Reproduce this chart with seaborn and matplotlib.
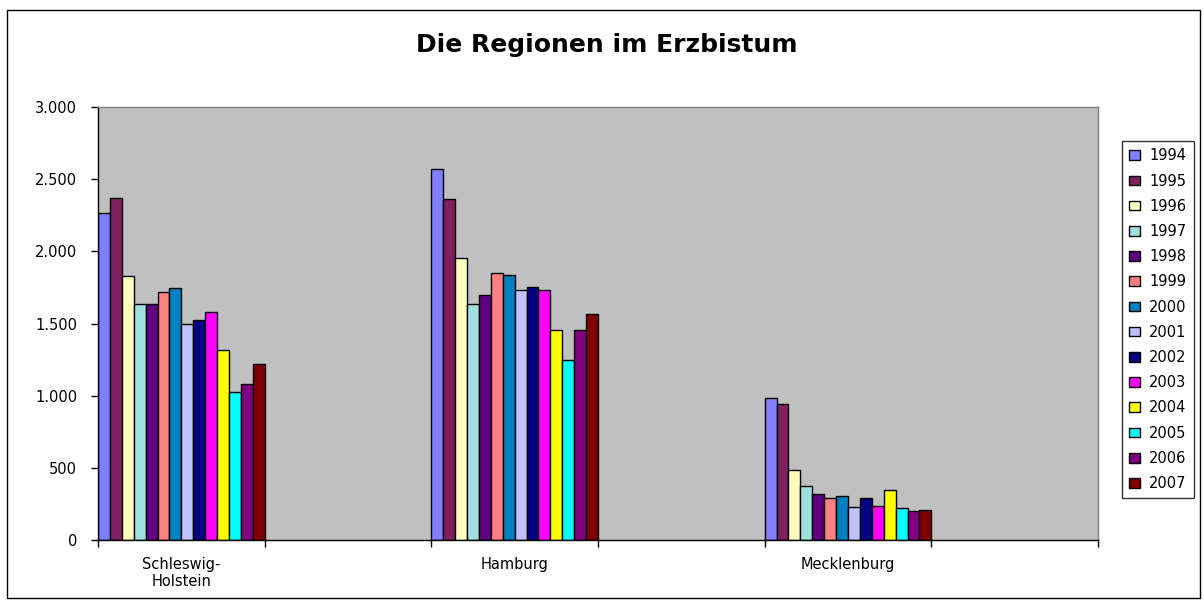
import numpy as np
import pandas as pd
import seaborn as sns
import matplotlib.pyplot as plt
from matplotlib.patches import Rectangle
from matplotlib.ticker import FuncFormatter

# Daten
regionen = ["Schleswig-\nHolstein", "Hamburg", "Mecklenburg"]
jahre = ["1994", "1995", "1996", "1997", "1998", "1999", "2000",
         "2001", "2002", "2003", "2004", "2005", "2006", "2007"]
schleswig_holstein = [2263, 2372, 1827, 1633, 1633, 1716, 1744,
                      1496, 1522, 1577, 1319, 1023, 1079, 1217]
hamburg = [2573, 2361, 1955, 1632, 1696, 1851, 1835,
           1733, 1754, 1733, 1456, 1244, 1456, 1567]
mecklenburg = [985, 942, 487, 374, 321, 293, 302,
               231, 293, 238, 348, 219, 201, 210]
farben = ["#8080FF", "#802060", "#FFFFC0", "#A0E0E0", "#600080", "#FF8080", "#0080C0",
          "#C0C0FF", "#000080", "#FF00FF", "#FFFF00", "#00FFFF", "#800080", "#800000"]

df = pd.DataFrame({
    "Region": np.repeat(regionen, len(jahre)),
    "Jahr": jahre * len(regionen),
    "Wert": schleswig_holstein + hamburg + mecklenburg,
})

# leere Kategorien zwischen den Regionen (wie im Original)
reihenfolge = [regionen[0], " ", regionen[1], "  ", regionen[2], "   "]

sns.set_style("white")
plt.rcParams["font.family"] = ["DejaVu Sans"]
plt.rcParams["text.color"] = "black"
plt.rcParams["xtick.labelcolor"] = "black"
plt.rcParams["ytick.labelcolor"] = "black"

fig = plt.figure(figsize=(12.04, 6.01), dpi=100)
ax = fig.add_axes([98 / 1204, 1 - 540 / 601, 1000 / 1204, 433 / 601])
ax.set_facecolor("#C0C0C0")

sns.barplot(data=df, x="Region", y="Wert", hue="Jahr", order=reihenfolge,
            hue_order=jahre, palette=farben, width=1, gap=0, errorbar=None,
            edgecolor="black", linewidth=1, saturation=1, ax=ax)

ax.set_ylim(0, 3000)
ax.set_yticks(range(0, 3001, 500))
ax.yaxis.set_major_formatter(FuncFormatter(lambda v, p: f"{int(v):,}".replace(",", ".")))
ax.tick_params(axis="y", direction="out", length=5, width=1, color="black",
               labelcolor="black", labelsize=10.5, left=True, pad=10)

ax.set_xlim(-0.5, 5.5)
ax.set_xticks([0, 2, 4])
ax.set_xticklabels(regionen)
ax.set_xticks(np.arange(-0.5, 6, 1), minor=True)
ax.tick_params(axis="x", which="major", length=0, labelsize=10.5, pad=12,
               labelcolor="black")
ax.tick_params(axis="x", which="minor", direction="out", length=5, width=1,
               color="black", bottom=True)
ax.set_xlabel("")
ax.set_ylabel("")

for s in ["left", "bottom"]:
    ax.spines[s].set_color("black")
    ax.spines[s].set_linewidth(1)
for s in ["top", "right"]:
    ax.spines[s].set_color("#808080")
    ax.spines[s].set_linewidth(1)

leg = ax.legend(loc="upper left", bbox_to_anchor=(1122 / 1204, 1 - 141 / 601),
                bbox_transform=fig.transFigure, borderaxespad=0, frameon=True,
                fancybox=False, edgecolor="black", fontsize=10.5, title=None,
                handlelength=0.75, handleheight=0.65, handletextpad=0.6,
                labelspacing=0.7, borderpad=0.5)
leg.get_frame().set_linewidth(1)
for t in leg.get_texts():
    t.set_color("black")

fig.text(607 / 1204, 1 - 45 / 601, "Die Regionen im Erzbistum", ha="center", va="center",
         fontsize=18, fontweight="bold", color="black")

fig.patches.append(Rectangle((7 / 1204, 3 / 601), 1193 / 1204, 588 / 601,
                             transform=fig.transFigure, fill=False,
                             edgecolor="black", linewidth=1))

fig.savefig("out.png", dpi=100)
